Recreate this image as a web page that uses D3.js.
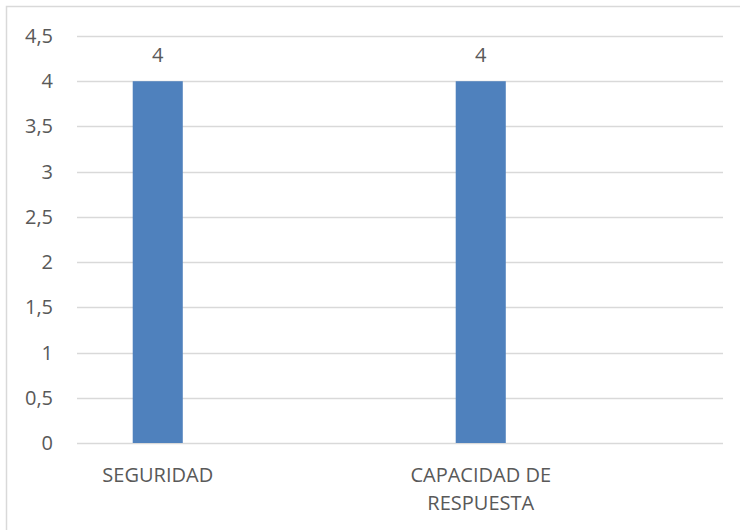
<!DOCTYPE html>
<html><head><meta charset="utf-8">
<script src="https://cdn.jsdelivr.net/npm/d3@7"></script>
<style>body{margin:0;background:#fff}svg{display:block}text{font-family:"Open Sans",sans-serif;fill:#595959}</style>
</head><body><svg id="c" width="740" height="530"></svg>
<script>
const categories = ["SEGURIDAD", "", "CAPACIDAD DE RESPUESTA", ""];
const categoryLines = [["SEGURIDAD"], [], ["CAPACIDAD DE", "RESPUESTA"], []];
const values = [4, null, 4, null];
const yTicks = [0, 0.5, 1, 1.5, 2, 2.5, 3, 3.5, 4, 4.5];
const yTickLabels = ["0", "0,5", "1", "1,5", "2", "2,5", "3", "3,5", "4", "4,5"];

(function () {
const svg = d3.select("#c");
svg.append("rect").attr("x", 6.5).attr("y", 6.5).attr("width", 740).attr("height", 530)
  .attr("fill", "#fff").attr("stroke", "#d9d9d9").attr("stroke-width", 1.5);

const pl = 77, pr = 723, pt = 36, pb = 443;
const fs = 20;
const x = d3.scaleBand().domain(d3.range(categories.length)).range([pl, pr]).paddingInner(0.69).paddingOuter(0.345);
const y = d3.scaleLinear().domain([0, 4.5]).range([pb, pt]);

const g = svg.append("g");
g.selectAll("line.grid").data(yTicks).join("line").attr("class", "grid")
  .attr("x1", pl).attr("x2", pr).attr("y1", d => Math.round(y(d)) + 0.5).attr("y2", d => Math.round(y(d)) + 0.5)
  .attr("stroke", "#d9d9d9").attr("stroke-width", 1.5);

g.selectAll("text.yl").data(yTicks).join("text").attr("class", "yl")
  .attr("x", 53).attr("y", d => y(d)).attr("dy", "0.35em").attr("text-anchor", "end")
  .attr("font-size", fs).text((d, i) => yTickLabels[i]);

const idx = d3.range(categories.length).filter(i => values[i] != null);
g.selectAll("rect.bar").data(idx).join("rect").attr("class", "bar")
  .attr("x", i => x(i)).attr("width", x.bandwidth())
  .attr("y", i => y(values[i])).attr("height", i => y(0) - y(values[i]))
  .attr("fill", "#4f81bd");

g.selectAll("text.dl").data(idx).join("text").attr("class", "dl")
  .attr("x", i => x(i) + x.bandwidth() / 2).attr("y", i => y(values[i]) - 19)
  .attr("text-anchor", "middle").attr("font-size", fs).text(i => String(values[i]));

d3.range(categories.length).forEach(i => {
  const t = g.append("text").attr("x", x(i) + x.bandwidth() / 2).attr("y", 482)
    .attr("text-anchor", "middle").attr("font-size", fs);
  categoryLines[i].forEach((line, k) => {
    t.append("tspan").attr("x", x(i) + x.bandwidth() / 2).attr("dy", k === 0 ? 0 : 28).text(line);
  });
});
})();
</script></body></html>
